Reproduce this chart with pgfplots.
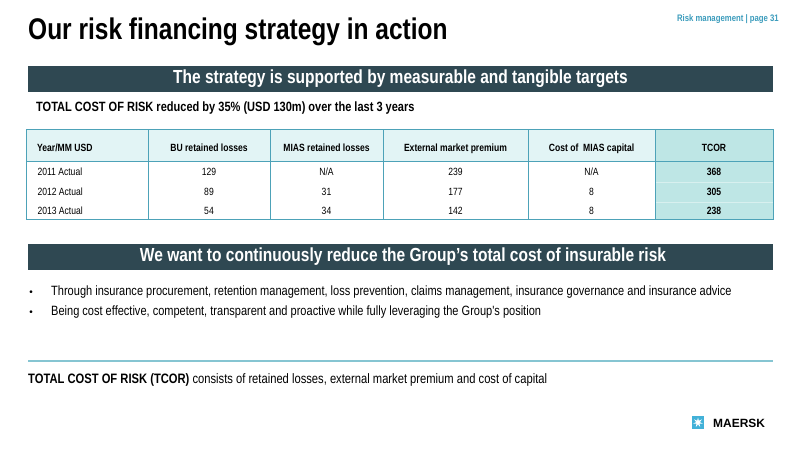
\documentclass[border=0pt]{standalone}
\usepackage{pgfplots}
\usepackage{pgfplotstable}
\usepackage{fontspec}
\pgfplotsset{compat=1.18}
\usetikzlibrary{shapes.geometric}
\setmainfont{Liberation Sans}
\newfontfamily\cond{Liberation Sans}[FakeStretch=0.82]
\definecolor{banner}{HTML}{2F4852}
\definecolor{hdrfill}{HTML}{E2F4F5}
\definecolor{tcorfill}{HTML}{BEE6E5}
\definecolor{tblline}{HTML}{4DA2B8}
\definecolor{teal}{HTML}{3C9CBC}
\definecolor{rule}{HTML}{86C5D2}
\definecolor{logo}{HTML}{42B1D8}

% TCOR table, USD million; y = row position on the slide
\pgfplotstableread{
ypos year bu mias ext cost tcor
172 2011 129 N/A 239 N/A 368
192 2012 89 31 177 8 305
211 2013 54 34 142 8 238
}\tcortable

\begin{document}
\begin{tikzpicture}
\begin{axis}[
    scale only axis,
    width=800bp, height=450bp,
    xmin=0, xmax=800, ymin=0, ymax=450,
    y dir=reverse,
    hide axis, clip=false,
    every node near coord/.append style={font=\cond\fontsize{10.5}{12}\selectfont, text=black},
    ]
\path (axis cs:0,0) rectangle (axis cs:800,450);

% title and page marker
\node[anchor=base west, inner sep=0pt, font=\cond\bfseries\fontsize{30}{32}\selectfont]
    at (axis cs:28,40) {Our risk financing strategy in action};
\node[anchor=base east, inner sep=0pt, text=teal, font=\cond\bfseries\fontsize{9.5}{11}\selectfont]
    at (axis cs:779,22) {Risk management | page 31};

% first banner
\fill[banner] (axis cs:28,66) rectangle (axis cs:773,92);
\node[text=white, font=\cond\bfseries\fontsize{19}{21}\selectfont]
    at (axis cs:400.5,79) {The strategy is supported by measurable and tangible targets};
\node[anchor=base west, inner sep=0pt, font=\cond\bfseries\fontsize{13.5}{15}\selectfont]
    at (axis cs:36,112) {TOTAL COST OF RISK reduced by 35\% (USD 130m) over the last 3 years};

% table frame
\fill[hdrfill] (axis cs:26,130) rectangle (axis cs:655,162);
\fill[tcorfill] (axis cs:655,130) rectangle (axis cs:773,220);
\draw[tcorfill!60!white, line width=0.6pt] (axis cs:655,182) -- (axis cs:773,182)
    (axis cs:655,202) -- (axis cs:773,202);
\draw[tblline, line width=1pt] (axis cs:26,130) rectangle (axis cs:773,220);
\draw[tblline, line width=1pt] (axis cs:26,162) -- (axis cs:773,162);
\draw[tblline, line width=1pt]
    (axis cs:148,130) -- (axis cs:148,220)
    (axis cs:270,130) -- (axis cs:270,220)
    (axis cs:383,130) -- (axis cs:383,220)
    (axis cs:528,130) -- (axis cs:528,220)
    (axis cs:655,130) -- (axis cs:655,220);

% header row
\node[anchor=base west, inner sep=0pt, font=\cond\bfseries\fontsize{10.5}{12}\selectfont] at (axis cs:37,151.5) {Year/MM USD};
\node[anchor=base, inner sep=0pt, font=\cond\bfseries\fontsize{10.5}{12}\selectfont] at (axis cs:209,151.5) {BU retained losses};
\node[anchor=base, inner sep=0pt, font=\cond\bfseries\fontsize{10.5}{12}\selectfont] at (axis cs:326.5,151.5) {MIAS retained losses};
\node[anchor=base, inner sep=0pt, font=\cond\bfseries\fontsize{10.5}{12}\selectfont] at (axis cs:455.5,151.5) {External market premium};
\node[anchor=base, inner sep=0pt, font=\cond\bfseries\fontsize{10.5}{12}\selectfont] at (axis cs:591.5,151.5) {Cost of\ \ MIAS capital};
\node[anchor=base, inner sep=0pt, font=\cond\bfseries\fontsize{10.5}{12}\selectfont] at (axis cs:714,151.5) {TCOR};

% table values
\addplot[draw=none, nodes near coords={\pgfplotspointmeta\ Actual},
    point meta=explicit symbolic, nodes near coords style={anchor=west}]
    table[x expr=34, y=ypos, meta=year] {\tcortable};
\addplot[draw=none, nodes near coords, point meta=explicit symbolic,
    nodes near coords style={anchor=center}]
    table[x expr=209, y=ypos, meta=bu] {\tcortable};
\addplot[draw=none, nodes near coords, point meta=explicit symbolic,
    nodes near coords style={anchor=center}]
    table[x expr=326.5, y=ypos, meta=mias] {\tcortable};
\addplot[draw=none, nodes near coords, point meta=explicit symbolic,
    nodes near coords style={anchor=center}]
    table[x expr=455.5, y=ypos, meta=ext] {\tcortable};
\addplot[draw=none, nodes near coords, point meta=explicit symbolic,
    nodes near coords style={anchor=center}]
    table[x expr=591.5, y=ypos, meta=cost] {\tcortable};
\addplot[draw=none, nodes near coords={\textbf{\pgfplotspointmeta}},
    point meta=explicit symbolic, nodes near coords style={anchor=center}]
    table[x expr=714, y=ypos, meta=tcor] {\tcortable};

% second banner
\fill[banner] (axis cs:28,244) rectangle (axis cs:773,270);
\node[text=white, font=\cond\bfseries\fontsize{19}{21}\selectfont]
    at (axis cs:403,257) {We want to continuously reduce the Group’s total cost of insurable risk};

% bullets
\node[anchor=base, inner sep=0pt, font=\fontsize{10}{12}\selectfont] at (axis cs:31,296) {\textbullet};
\node[anchor=base west, inner sep=0pt, font=\cond\fontsize{13.5}{15}\selectfont] at (axis cs:51,296)
    {Through insurance procurement, retention management, loss prevention, claims management, insurance governance and insurance advice};
\node[anchor=base, inner sep=0pt, font=\fontsize{10}{12}\selectfont] at (axis cs:31,316) {\textbullet};
\node[anchor=base west, inner sep=0pt, font=\cond\fontsize{13.5}{15}\selectfont] at (axis cs:51,316)
    {Being cost effective, competent, transparent and proactive while fully leveraging the Group's position};

% rule and footnote
\draw[rule, line width=1.2pt] (axis cs:28,361) -- (axis cs:773,361);
\node[anchor=base west, inner sep=0pt, font=\cond\fontsize{13.7}{15}\selectfont]
    at (axis cs:28,384) {\textbf{TOTAL COST OF RISK (TCOR)} consists of retained losses, external market premium and cost of capital};

% logo
\fill[logo] (axis cs:692,416) rectangle (axis cs:704,429);
\node[star, star points=7, star point ratio=2.6, fill=white, inner sep=0pt,
    minimum size=10bp] at (axis cs:698,422.5) {};
\node[anchor=west, inner sep=0pt, font=\bfseries\fontsize{12}{14}\selectfont]
    at (axis cs:713,423) {MAERSK};
\end{axis}
\end{tikzpicture}
\end{document}
